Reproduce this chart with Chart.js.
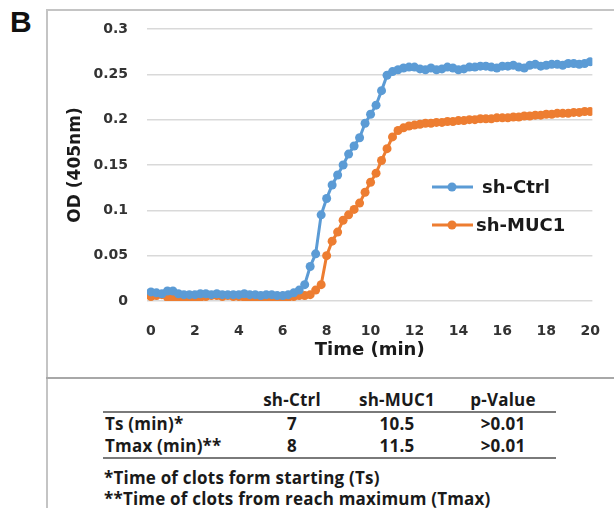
<!DOCTYPE html>
<html>
<head>
<meta charset="utf-8">
<script src="https://cdn.jsdelivr.net/npm/chart.js@4/dist/chart.umd.min.js"></script>
<style>
    body { margin: 0; background: #fff; }
    #wrap { position: relative; width: 614px; height: 508px; overflow: hidden; }
    #panel { position: absolute; left: 10px; top: 5px; font: bold 30px "Liberation Sans", Arial, sans-serif; color: #111; }
    .frame-top { position: absolute; left: 46px; top: 9px; width: 570px; height: 0; border-top: 2px solid #c4c4c4; }
    .frame-left { position: absolute; left: 46px; top: 9px; width: 0; height: 510px; border-left: 2px solid #c4c4c4; }
    .frame-mid { position: absolute; left: 46px; top: 377px; width: 570px; height: 0; border-top: 2px solid #a8a8a8; }
    #chart { position: absolute; left: 0; top: 0; }
    #stats { position: absolute; left: 103px; top: 389px; border-collapse: collapse; font: bold 17px "Open Sans", Lato, sans-serif; color: #1a1a1a; letter-spacing: 0.2px; }
    #stats th, #stats td { padding: 0; height: 22px; line-height: 20px; text-align: center; font-weight: bold; }
    #stats th:first-child, #stats td:first-child { text-align: left; padding-left: 2px; }
    #stats thead tr { border-bottom: 2px solid #7a7a7a; }
    #stats tbody tr:last-child { border-bottom: 2px solid #7a7a7a; }
    #notes { position: absolute; left: 104px; top: 467px; font: bold 17px "Open Sans", Lato, sans-serif; color: #1a1a1a; line-height: 21px; letter-spacing: 0.2px; }
</style>
</head>
<body>
<div id="wrap">
    <div class="frame-top"></div>
    <div class="frame-left"></div>
    <div class="frame-mid"></div>
    <div id="panel">B</div>
    <canvas id="chart" width="614" height="378"></canvas>
    <table id="stats">
        <colgroup><col style="width:137px"><col style="width:104px"><col style="width:106px"><col style="width:106px"></colgroup>
        <thead><tr id="stats-head"></tr></thead>
        <tbody id="stats-body"></tbody>
    </table>
    <div id="notes"></div>
</div>
<script>
// время измерения, мин
const timeMin = [
    0, 0.25, 0.5, 0.75, 1, 1.25, 1.5, 1.75, 2, 2.25, 2.5, 2.75, 3, 3.25, 3.5, 3.75,
    4, 4.25, 4.5, 4.75, 5, 5.25, 5.5, 5.75, 6, 6.25, 6.5, 6.75, 7, 7.25, 7.5, 7.75,
    8, 8.25, 8.5, 8.75, 9, 9.25, 9.5, 9.75, 10, 10.25, 10.5, 10.75, 11, 11.25, 11.5, 11.75,
    12, 12.25, 12.5, 12.75, 13, 13.25, 13.5, 13.75, 14, 14.25, 14.5, 14.75, 15, 15.25, 15.5, 15.75,
    16, 16.25, 16.5, 16.75, 17, 17.25, 17.5, 17.75, 18, 18.25, 18.5, 18.75, 19, 19.25, 19.5, 19.75, 20
];

const odCtrl = [
    0.010, 0.009, 0.008, 0.011, 0.011, 0.008, 0.007, 0.007, 0.007, 0.008, 0.008, 0.007, 0.008, 0.007, 0.007, 0.007,
    0.007, 0.008, 0.007, 0.007, 0.006, 0.007, 0.007, 0.006, 0.006, 0.007, 0.009, 0.012, 0.018, 0.038, 0.052, 0.095,
    0.113, 0.128, 0.139, 0.150, 0.162, 0.171, 0.180, 0.196, 0.206, 0.216, 0.232, 0.249, 0.253, 0.255, 0.257, 0.258,
    0.258, 0.256, 0.255, 0.257, 0.255, 0.256, 0.258, 0.257, 0.255, 0.256, 0.258, 0.258, 0.259, 0.259, 0.258, 0.257,
    0.259, 0.259, 0.260, 0.258, 0.257, 0.260, 0.261, 0.259, 0.260, 0.261, 0.261, 0.260, 0.262, 0.262, 0.261, 0.262, 0.264
];

const odMuc1 = [
    0.005, 0.006, 0.007, 0.004, 0.002, 0.001, 0.002, 0.002, 0.003, 0.004, 0.005, 0.006, 0.006, 0.005, 0.006, 0.005,
    0.005, 0.004, 0.002, 0.001, 0.002, 0.003, 0.003, 0.002, 0.002, 0.004, 0.005, 0.006, 0.006, 0.007, 0.012, 0.018,
    0.050, 0.066, 0.076, 0.089, 0.095, 0.101, 0.108, 0.120, 0.131, 0.141, 0.155, 0.168, 0.181, 0.188, 0.191, 0.193,
    0.194, 0.195, 0.196, 0.196, 0.197, 0.197, 0.198, 0.198, 0.199, 0.199, 0.200, 0.200, 0.201, 0.201, 0.201, 0.202,
    0.202, 0.202, 0.203, 0.203, 0.204, 0.204, 0.205, 0.205, 0.206, 0.206, 0.207, 0.207, 0.207, 0.208, 0.208, 0.209, 0.209
];

const seriesNames = ['sh-Ctrl', 'sh-MUC1'];
const seriesColors = ['#5b9bd5', '#ed7d31'];
const xTickValues = [0, 2, 4, 6, 8, 10, 12, 14, 16, 18, 20];

// таблица под графиком
const tableHead = ['', 'sh-Ctrl', 'sh-MUC1', 'p-Value'];
const tableRows = [
    ['Ts (min)*', '7', '10.5', '>0.01'],
    ['Tmax (min)**', '8', '11.5', '>0.01']
];
const footNotes = [
    '*Time of clots form starting (Ts)',
    '**Time of clots from reach maximum (Tmax)'
];

const boldFont = '"DejaVu Sans", Verdana, sans-serif';

// легенда внутри области графика
const insideLegend = {
    id: 'insideLegend',
    afterDatasetsDraw(chart) {
        const ctx = chart.ctx;
        const rows = [187, 225];
        ctx.save();
        chart.data.datasets.forEach((ds, i) => {
            const y = rows[i];
            ctx.strokeStyle = ds.borderColor;
            ctx.lineWidth = 3;
            ctx.beginPath();
            ctx.moveTo(432, y);
            ctx.lineTo(473, y);
            ctx.stroke();
            ctx.fillStyle = ds.backgroundColor;
            ctx.beginPath();
            ctx.arc(452, y, 4.5, 0, Math.PI * 2);
            ctx.fill();
            ctx.fillStyle = '#1a1a1a';
            ctx.font = 'bold 18px ' + boldFont;
            ctx.textBaseline = 'middle';
            ctx.textAlign = 'left';
            ctx.fillText(ds.label, i === 0 ? 482 : 476, y + 1);
        });
        ctx.restore();
    }
};

const datasets = [odCtrl, odMuc1].map((vals, i) => ({
    label: seriesNames[i],
    data: timeMin.map((t, k) => ({ x: t, y: vals[k] })),
    borderColor: seriesColors[i],
    backgroundColor: seriesColors[i],
    borderWidth: 3,
    pointRadius: 4.5,
    pointBorderWidth: 0,
    pointHoverRadius: 4.5,
    tension: 0
}));

new Chart(document.getElementById('chart'), {
    type: 'line',
    data: { datasets },
    options: {
        responsive: false,
        animation: false,
        layout: { padding: { left: 47, right: 15, top: 29, bottom: 0 } },
        plugins: { legend: { display: false }, tooltip: { enabled: false } },
        scales: {
            x: {
                type: 'linear',
                min: -0.18,
                max: 20.1,
                afterBuildTicks: s => { s.ticks = xTickValues.map(v => ({ value: v })); },
                afterFit: s => { s.height = 77; },
                grid: { display: false },
                border: { display: false },
                ticks: { padding: 14, color: '#333', font: { family: boldFont, size: 14, weight: 'bold' }, maxRotation: 0 },
                title: { display: true, text: 'Time (min)', color: '#1a1a1a', padding: { top: 0, bottom: 17 },
                         font: { family: boldFont, size: 18, weight: 'bold' } }
            },
            y: {
                min: 0,
                max: 0.3,
                afterFit: s => { s.width = 100; },
                grid: { color: '#d9d9d9', lineWidth: 1.5, drawTicks: false },
                border: { display: false },
                ticks: { stepSize: 0.05, padding: 19, color: '#333',
                         font: { family: boldFont, size: 14, weight: 'bold' },
                         callback: v => String(+v.toFixed(2)) },
                title: { display: true, text: 'OD (405nm)', color: '#1a1a1a', padding: { top: 18, bottom: 0 },
                         font: { family: boldFont, size: 17, weight: 'bold' } }
            }
        }
    },
    plugins: [insideLegend]
});

// таблица
document.getElementById('stats-head').innerHTML = tableHead.map(h => `<th>${h}</th>`).join('');
document.getElementById('stats-body').innerHTML = tableRows
    .map(r => `<tr>${r.map(c => `<td>${c.replace('>', '&gt;')}</td>`).join('')}</tr>`).join('');
document.getElementById('notes').innerHTML = footNotes.map(n => `<div>${n}</div>`).join('');
</script>
</body>
</html>
